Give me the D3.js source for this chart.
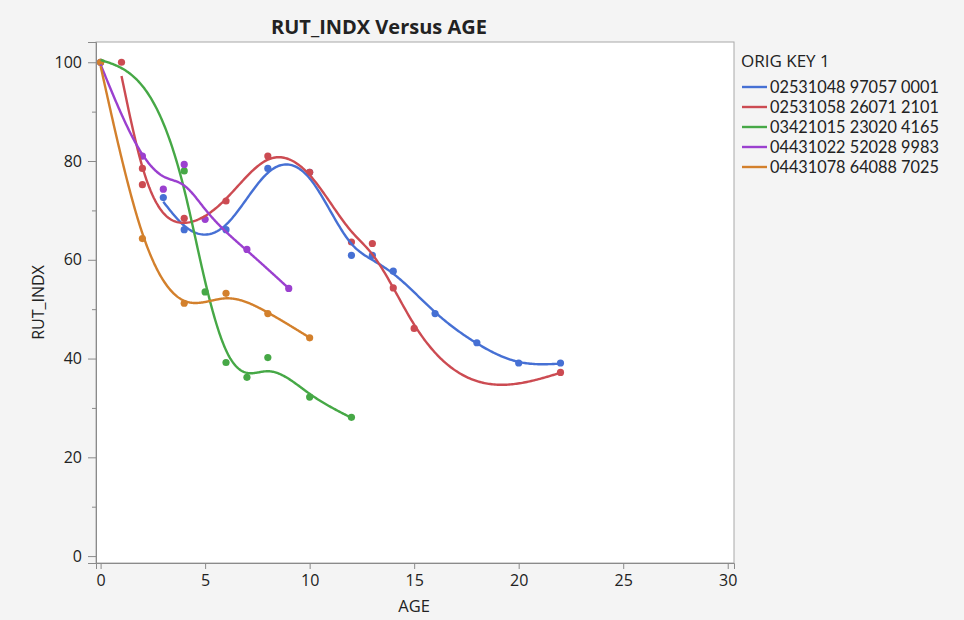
<!DOCTYPE html>
<html>
<head>
<meta charset="utf-8">
<script src="https://cdn.jsdelivr.net/npm/d3@7"></script>
<style>
  html, body { margin: 0; padding: 0; background: #f4f4f4; }
  svg { display: block; }
  text { font-family: "Open Sans", "Noto Sans", sans-serif; fill: #222; }
</style>
</head>
<body>
<svg id="chart" width="964" height="620"></svg>
<script>
// Series keys (legend order) and colours
const seriesKeys = [
  "02531048 97057 0001",
  "02531058 26071 2101",
  "03421015 23020 4165",
  "04431022 52028 9983",
  "04431078 64088 7025"
];
const seriesColors = ["#4670d4", "#cc4b52", "#46a846", "#9b40cf", "#d3802c"];

// AGE / RUT_INDX observations per series
const ageBlue   = [3, 4, 6, 8, 10, 12, 13, 14, 16, 18, 20, 22];
const rutBlue   = [72.6, 66.1, 66.1, 78.5, 77.7, 60.9, 60.9, 57.7, 49.1, 43.2, 39.1, 39.1];
const ageRed    = [1, 2, 2, 4, 6, 8, 10, 12, 13, 14, 15, 22];
const rutRed    = [100, 78.5, 75.2, 68.4, 71.9, 81.0, 77.7, 63.6, 63.3, 54.3, 46.1, 37.2];
const ageGreen  = [0, 4, 5, 6, 7, 8, 10, 12];
const rutGreen  = [100, 78.0, 53.5, 39.2, 36.2, 40.2, 32.2, 28.1];
const agePurple = [0, 2, 3, 4, 5, 7, 9];
const rutPurple = [100, 81.0, 74.3, 79.3, 68.2, 62.1, 54.2];
const ageOrange = [0, 2, 4, 6, 8, 10];
const rutOrange = [100, 64.3, 51.2, 53.2, 49.1, 44.2];

const xTicks = [0, 5, 10, 15, 20, 25, 30];
const yTicks = [0, 20, 40, 60, 80, 100];
const yMinorTicks = [10, 30, 50, 70, 90];

const series = [
  { key: seriesKeys[0], color: seriesColors[0], x: ageBlue,   y: rutBlue },
  { key: seriesKeys[1], color: seriesColors[1], x: ageRed,    y: rutRed },
  { key: seriesKeys[2], color: seriesColors[2], x: ageGreen,  y: rutGreen },
  { key: seriesKeys[3], color: seriesColors[3], x: agePurple, y: rutPurple },
  { key: seriesKeys[4], color: seriesColors[4], x: ageOrange, y: rutOrange }
];

// AGE is standardized over all observations before smoothing
const allAges = series.flatMap(s => s.x);
const ageMean = d3.mean(allAges), ageSd = d3.deviation(allAges);

// Cubic smoothing spline (Reinsch algorithm) with curvature penalty lambda
function smoothingSpline(xs, ys, lambda) {
  const groups = d3.rollups(
    xs.map((x, i) => [x, ys[i]]),
    v => ({ w: v.length, y: d3.mean(v, d => d[1]) }),
    d => d[0]
  ).sort((a, b) => a[0] - b[0]);
  const t = groups.map(g => (g[0] - ageMean) / ageSd);
  const w = groups.map(g => g[1].w);
  const Y = groups.map(g => g[1].y);
  const n = t.length, m = n - 2;
  const h = d3.range(n - 1).map(i => t[i + 1] - t[i]);
  const Q = d3.range(n).map(() => new Array(m).fill(0));
  const R = d3.range(m).map(() => new Array(m).fill(0));
  for (let j = 0; j < m; j++) {
    Q[j][j] = 1 / h[j];
    Q[j + 1][j] = -1 / h[j] - 1 / h[j + 1];
    Q[j + 2][j] = 1 / h[j + 1];
    R[j][j] = (h[j] + h[j + 1]) / 3;
    if (j < m - 1) { R[j][j + 1] = h[j + 1] / 6; R[j + 1][j] = h[j + 1] / 6; }
  }
  // A = R + lambda * Q' W^-1 Q ; b = Q' Y
  const A = R.map(r => r.slice());
  const b = new Array(m).fill(0);
  for (let a = 0; a < m; a++) {
    for (let c = 0; c < m; c++) {
      let s = 0;
      for (let i = 0; i < n; i++) s += Q[i][a] * Q[i][c] / w[i];
      A[a][c] += lambda * s;
    }
    for (let i = 0; i < n; i++) b[a] += Q[i][a] * Y[i];
  }
  // Gaussian elimination with partial pivoting
  for (let k = 0; k < m; k++) {
    let p = k;
    for (let i = k + 1; i < m; i++) if (Math.abs(A[i][k]) > Math.abs(A[p][k])) p = i;
    [A[k], A[p]] = [A[p], A[k]]; [b[k], b[p]] = [b[p], b[k]];
    for (let i = k + 1; i < m; i++) {
      const f = A[i][k] / A[k][k];
      for (let c = k; c < m; c++) A[i][c] -= f * A[k][c];
      b[i] -= f * b[k];
    }
  }
  const gam = new Array(m).fill(0);
  for (let k = m - 1; k >= 0; k--) {
    let s = b[k];
    for (let c = k + 1; c < m; c++) s -= A[k][c] * gam[c];
    gam[k] = s / A[k][k];
  }
  const g = Y.map((y, i) => {
    let s = 0;
    for (let j = 0; j < m; j++) s += Q[i][j] * gam[j];
    return y - lambda * s / w[i];
  });
  const G = [0, ...gam, 0];
  return function (xv) {
    const tv = (xv - ageMean) / ageSd;
    let i = 0;
    while (i < n - 2 && tv > t[i + 1]) i++;
    const hi = h[i], a = tv - t[i], bb = t[i + 1] - tv;
    return (a * g[i + 1] + bb * g[i]) / hi
      - a * bb / 6 * ((1 + a / hi) * G[i + 1] + (1 + bb / hi) * G[i]);
  };
}

const svg = d3.select("#chart");
const plot = { left: 96, right: 734, top: 42, bottom: 563 };

const x = d3.scaleLinear().domain([-0.22, 30.3]).range([plot.left, plot.right]);
const y = d3.scaleLinear().domain([-1.4, 104.1]).range([plot.bottom, plot.top]);

// plot background and frame
svg.append("rect")
  .attr("x", plot.left).attr("y", plot.top)
  .attr("width", plot.right - plot.left).attr("height", plot.bottom - plot.top)
  .attr("fill", "#fff").attr("stroke", "#a8a8a8").attr("stroke-width", 1);

// title
svg.append("text")
  .attr("x", 379).attr("y", 34)
  .attr("text-anchor", "middle")
  .style("font-size", "20px").style("font-weight", "700")
  .text("RUT_INDX Versus AGE");

// y axis
svg.append("g").attr("transform", `translate(${plot.left},0)`)
  .call(d3.axisLeft(y).tickValues(yTicks).tickSize(8).tickPadding(6));
svg.append("g").attr("transform", `translate(${plot.left},0)`)
  .call(d3.axisLeft(y).tickValues(yMinorTicks).tickSize(4).tickFormat(""))
  .call(g => g.select(".domain").remove());

// x axis
svg.append("g").attr("transform", `translate(0,${plot.bottom})`)
  .call(d3.axisBottom(x).tickValues(xTicks).tickSize(6).tickPadding(6));

svg.selectAll(".tick line").attr("stroke", "#8a8a8a");
svg.selectAll(".domain").attr("stroke", "#8a8a8a");
svg.selectAll(".tick text")
  .style("font-family", "'Open Sans', 'Noto Sans', sans-serif")
  .style("font-size", "16px").attr("fill", "#333");

// axis titles
svg.append("text")
  .attr("x", (x(0) + x(30)) / 2).attr("y", 612)
  .attr("text-anchor", "middle")
  .style("font-size", "16.5px")
  .text("AGE");
svg.append("text")
  .attr("transform", `translate(44,${(plot.top + plot.bottom) / 2}) rotate(-90)`)
  .attr("text-anchor", "middle")
  .style("font-size", "16px")
  .text("RUT_INDX");

// marks: points, then smoothers on top
svg.append("clipPath").attr("id", "plotclip")
  .append("rect")
  .attr("x", plot.left).attr("y", plot.top)
  .attr("width", plot.right - plot.left).attr("height", plot.bottom - plot.top);

const marks = svg.append("g").attr("clip-path", "url(#plotclip)");

const lambda = 0.0012;
const line = d3.line().x(d => x(d[0])).y(d => y(d[1]));

series.forEach(s => {
  marks.append("g").selectAll("circle")
    .data(s.x.map((v, i) => [v, s.y[i]]))
    .join("circle")
    .attr("cx", d => x(d[0])).attr("cy", d => y(d[1]))
    .attr("r", 3.6).attr("fill", s.color);
});

series.forEach(s => {
  const f = smoothingSpline(s.x, s.y, lambda);
  const [lo, hi] = d3.extent(s.x);
  const pts = d3.range(0, 301).map(k => {
    const xv = lo + (hi - lo) * k / 300;
    return [xv, f(xv)];
  });
  marks.append("path")
    .attr("d", line(pts))
    .attr("fill", "none")
    .attr("stroke", s.color)
    .attr("stroke-width", 2.4)
    .attr("stroke-linejoin", "round");
});

// legend
const legend = svg.append("g").attr("transform", "translate(741,0)");
legend.append("text")
  .attr("x", 0).attr("y", 67)
  .style("font-size", "17px")
  .text("ORIG KEY 1");
series.forEach((s, i) => {
  const cy = 87 + i * 20;
  legend.append("line")
    .attr("x1", 1).attr("x2", 26).attr("y1", cy).attr("y2", cy)
    .attr("stroke", s.color).attr("stroke-width", 2.4);
  legend.append("text")
    .attr("x", 29).attr("y", cy + 6)
    .style("font-family", "Lato, 'Open Sans', sans-serif")
    .style("font-size", "16.3px")
    .text(s.key);
});
</script>
</body>
</html>
